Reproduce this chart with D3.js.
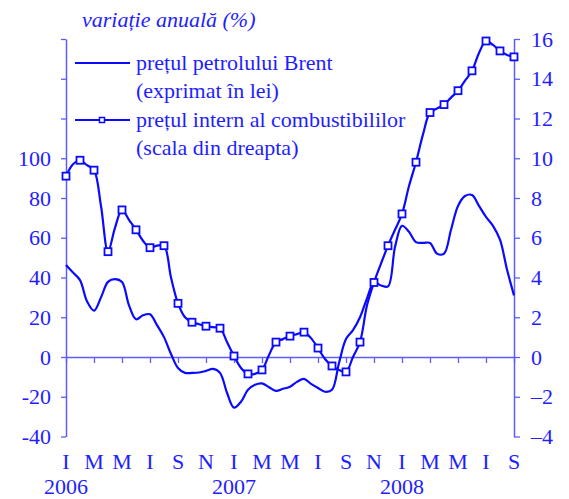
<!DOCTYPE html>
<html>
<head>
<meta charset="utf-8">
<script src="https://cdn.jsdelivr.net/npm/d3@7"></script>
<style>
  body { margin: 0; background: #fff; }
  svg text { font-family: "Liberation Serif", "Times New Roman", serif; fill: #1e1eff; }
</style>
</head>
<body>
<div id="chart"></div>
<script>
// Half-month steps, Jan 2006 .. Sep 2008 (index k -> month k/2)
const brent = [46.3, 42.5, 38.7, 28, 23.3, 30, 37.8, 39.2, 37.7, 26, 19, 21, 21.5, 16, 10, 1.5,
  -5.5, -8, -8, -7.8, -7, -6, -8, -18, -25.5, -22.5, -16.5, -14, -13.3, -15.2, -17, -16,
  -15, -12.5, -11, -13.5, -15.6, -17.5, -16.5, -3, 9, 13.5, 20, 29.5, 37.5, 36, 35.5, 55.3,
  66, 63, 57.8, 57.4, 57.4, 52, 52, 64, 76, 81, 81.5, 76, 70.5, 66, 59, 44, 31];

// fuel prices (right scale), markers on whole months
const fuel = [9.1, 9.7, 9.9, 9.65, 9.4, 7.6, 5.3, 6.5, 7.4, 6.9, 6.4, 5.85, 5.5, 5.6, 5.6, 4.0,
  2.7, 2.0, 1.75, 1.65, 1.55, 1.5, 1.45, 0.75, 0.05, -0.55, -0.85, -0.85, -0.65, 0.1, 0.75, 0.9,
  1.05, 1.15, 1.25, 0.95, 0.45, -0.1, -0.45, -0.65, -0.75, 0.0, 0.75, 2.6, 3.75, 4.7, 5.6, 6.4,
  7.2, 8.6, 9.8, 11.2, 12.3, 12.5, 12.7, 13.05, 13.4, 13.9, 14.4, 15.3, 15.9, 15.7, 15.4, 15.2, 15.1];

const monthLabels = ["I", "M", "M", "I", "S", "N", "I", "M", "M", "I", "S", "N", "I", "M", "M", "I", "S"];
const years = ["2006", "2007", "2008"];
const leftTicks = [-40, -20, 0, 20, 40, 60, 80, 100, 120, 140, 160];
const rightTicks = [-4, -2, 0, 2, 4, 6, 8, 10, 12, 14, 16];

const lineColor = "#0a0aff";
const axisColor = "#5c5cff";

const W = 569, H = 499;
const svg = d3.select("#chart").append("svg")
  .attr("width", W).attr("height", H);
svg.append("rect").attr("width", W).attr("height", H).attr("fill", "#fff");

const x = d3.scaleLinear().domain([0, 32]).range([66, 514]);
const yL = d3.scaleLinear().domain([-40, 160]).range([436.5, 39]);
const yR = d3.scaleLinear().domain([-4, 16]).range([436.5, 39]);

// title
svg.append("text")
  .attr("x", 82).attr("y", 27)
  .style("font-size", "22px").style("font-style", "italic")
  .text("variație anuală (%)");

// left axis
const gL = svg.append("g").attr("transform", "translate(66,0)")
  .call(d3.axisLeft(yL).tickValues(leftTicks).tickSize(5).tickSizeOuter(0).tickPadding(10)
    .tickFormat(d => d <= 100 ? d : ""));

// right axis
const gR = svg.append("g").attr("transform", "translate(514,0)")
  .call(d3.axisRight(yR).tickValues(rightTicks).tickSize(6).tickSizeOuter(0).tickPadding(11)
    .tickFormat(d => d < 0 ? "\u2013" + Math.abs(d) : d));

// x axis on the zero line
const gX = svg.append("g").attr("transform", `translate(0,${yL(0)})`)
  .call(d3.axisBottom(x).tickValues(d3.range(0, 33, 2)).tickSize(6).tickSizeOuter(0).tickFormat(""));

[gL, gR, gX].forEach(g => {
  g.select(".domain").attr("stroke", axisColor).attr("stroke-width", 1.5);
  g.selectAll(".tick line").attr("stroke", axisColor).attr("stroke-width", 1.3);
  g.selectAll("text").attr("fill", "#1e1eff")
    .style("font-family", "'Liberation Serif', serif").style("font-size", "22px");
});

// month and year labels
svg.append("g").selectAll("text")
  .data(monthLabels).enter().append("text")
  .attr("x", (d, i) => x(i * 2)).attr("y", 469)
  .attr("text-anchor", "middle").style("font-size", "22px")
  .text(d => d);

svg.append("g").selectAll("text")
  .data(years).enter().append("text")
  .attr("x", (d, i) => x(i * 12)).attr("y", 494)
  .attr("text-anchor", "middle").style("font-size", "22px")
  .text(d => d);

// lines
const brentLine = d3.line()
  .x((d, i) => x(i / 2)).y(d => yL(d))
  .curve(d3.curveCatmullRom.alpha(0.5));

const fuelLine = d3.line()
  .x((d, i) => x(i / 2)).y(d => yR(d))
  .curve(d3.curveCatmullRom.alpha(0.5));

svg.append("path").datum(brent)
  .attr("d", brentLine).attr("fill", "none")
  .attr("stroke", lineColor).attr("stroke-width", 2.2);

svg.append("path").datum(fuel)
  .attr("d", fuelLine).attr("fill", "none")
  .attr("stroke", lineColor).attr("stroke-width", 2.2);

// monthly markers
const markers = fuel.map((v, i) => ({ m: i / 2, v })).filter((d, i) => i % 2 === 0);
svg.append("g").selectAll("rect")
  .data(markers).enter().append("rect")
  .attr("x", d => x(d.m) - 3.5).attr("y", d => yR(d.v) - 3.5)
  .attr("width", 7).attr("height", 7)
  .attr("fill", "#fff").attr("stroke", lineColor).attr("stroke-width", 1.8);

// legend
const legend = svg.append("g");
legend.append("line").attr("x1", 75).attr("x2", 130).attr("y1", 63).attr("y2", 63)
  .attr("stroke", lineColor).attr("stroke-width", 2);
legend.append("line").attr("x1", 75).attr("x2", 130).attr("y1", 120).attr("y2", 120)
  .attr("stroke", lineColor).attr("stroke-width", 2);
legend.append("rect").attr("x", 99.5).attr("y", 117.5).attr("width", 5).attr("height", 5)
  .attr("fill", "#fff").attr("stroke", lineColor).attr("stroke-width", 1.5);

const legendText = [
  ["prețul petrolului Brent", 70],
  ["(exprimat în lei)", 98],
  ["prețul intern al combustibililor", 127],
  ["(scala din dreapta)", 155]
];
legend.selectAll("text.lg").data(legendText).enter().append("text")
  .attr("class", "lg")
  .attr("x", 136).attr("y", d => d[1])
  .style("font-size", "22px")
  .text(d => d[0]);
</script>
</body>
</html>
